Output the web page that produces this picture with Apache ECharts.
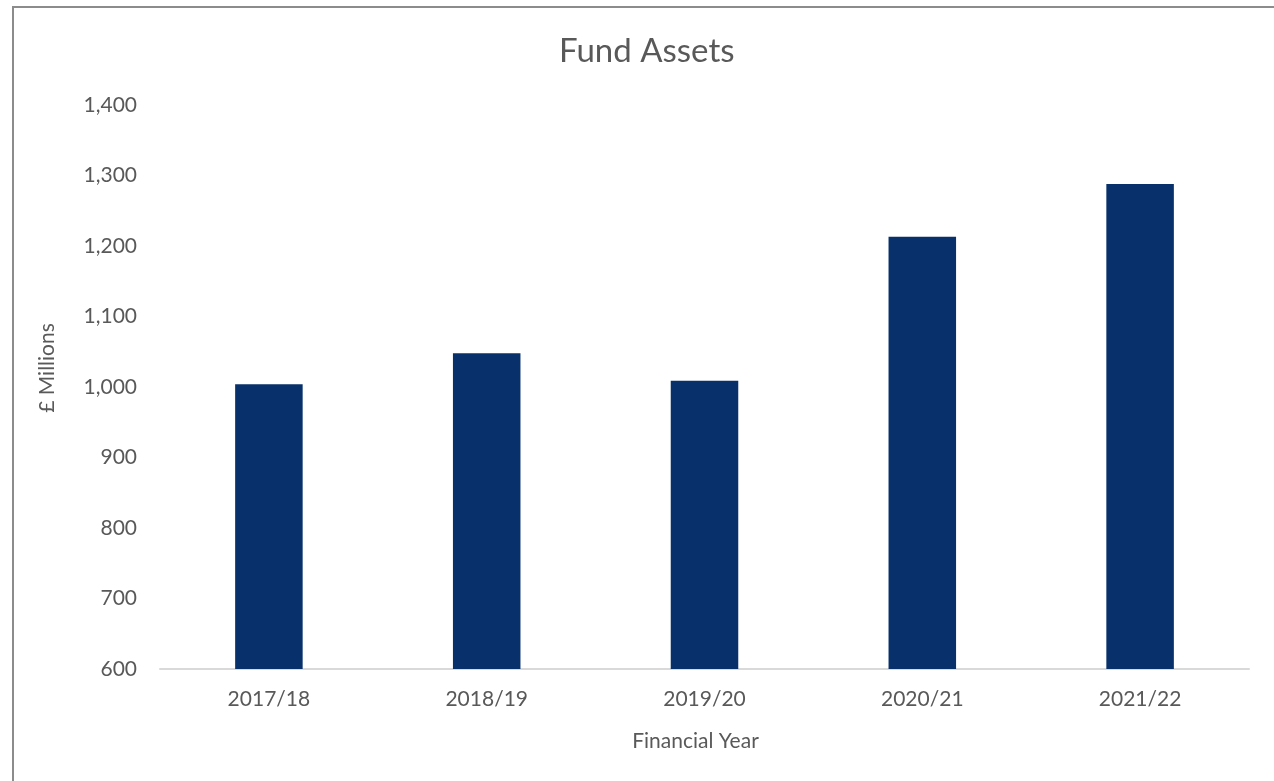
<!DOCTYPE html>
<html>
<head>
<meta charset="utf-8">
<title>Fund Assets</title>
<script src="https://cdn.jsdelivr.net/npm/echarts@6/dist/echarts.min.js"></script>
<style>
  html, body { margin: 0; padding: 0; background: #ffffff; }
  #chart { position: absolute; left: 0; top: 0; width: 1274px; height: 781px; }
  .frame {
    position: absolute; left: 12px; top: 6px; width: 1300px; height: 800px;
    border-left: 2px solid #8c8c8c; border-top: 2px solid #8c8c8c;
    pointer-events: none;
  }
</style>
</head>
<body>
<div id="chart"></div>
<div class="frame"></div>
<script>
// 财年与基金资产（百万英镑）
const years = ['2017/18', '2018/19', '2019/20', '2020/21', '2021/22'];
const assets = [1004, 1048, 1009, 1213, 1288];

const textColor = '#595959';
const fontFamily = 'Lato, "Open Sans", sans-serif';

const chart = echarts.init(document.getElementById('chart'), null, { renderer: 'canvas' });
chart.setOption({
  animation: false,
  title: {
    text: 'Fund Assets',
    left: 554,
    top: 30,
    textStyle: { fontSize: 33, fontWeight: 'normal', color: textColor, fontFamily }
  },
  grid: { left: 160, right: 25, top: 105, bottom: 112 },
  xAxis: {
    type: 'category',
    data: years,
    name: 'Financial Year',
    nameLocation: 'middle',
    nameGap: 62,
    nameTextStyle: { fontSize: 21, color: textColor, fontFamily, padding: [0, 18, 0, 0] },
    axisLine: { lineStyle: { color: '#d9d9d9', width: 2 } },
    axisTick: { show: false },
    axisLabel: { fontSize: 21, color: textColor, fontFamily, margin: 20 }
  },
  yAxis: {
    type: 'value',
    min: 600,
    max: 1400,
    interval: 100,
    name: '£ Millions',
    nameLocation: 'middle',
    nameGap: 102,
    nameTextStyle: { fontSize: 21, color: textColor, fontFamily, padding: [0, 0, 0, 38] },
    splitLine: { show: false },
    axisLine: { show: false },
    axisTick: { show: false },
    axisLabel: {
      fontSize: 21, color: textColor, fontFamily, margin: 23,
      formatter: v => v.toLocaleString('en-GB')
    }
  },
  series: [
    {
      type: 'bar',
      data: assets,
      barWidth: '31%',
      itemStyle: { color: '#08316b' }
    }
  ]
});
</script>
</body>
</html>
